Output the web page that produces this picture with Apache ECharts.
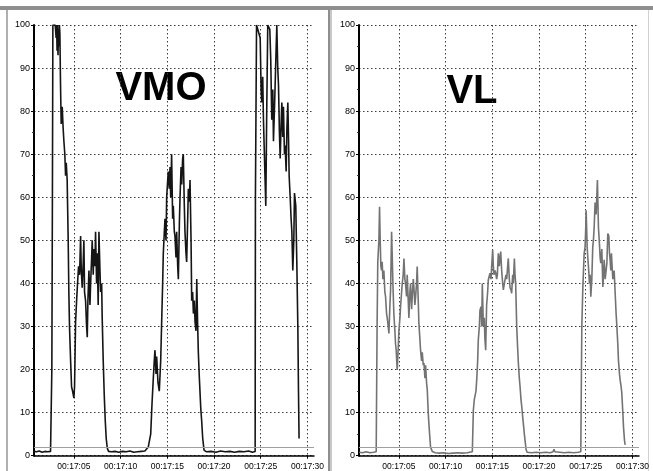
<!DOCTYPE html>
<html>
<head>
<meta charset="utf-8">
<script src="https://cdn.jsdelivr.net/npm/echarts@6/dist/echarts.min.js"></script>
<style>
html,body{margin:0;padding:0;background:#ffffff;}
#chart{width:653px;height:471px;}
</style>
</head>
<body>
<div id="chart"></div>
<script>
// ---- data (seconds after 00:17:00, value) ----
const panelTitles = ['VMO', 'VL'];
const xTickSeconds = [5, 10, 15, 20, 25, 30];
const xTickLabels = ['00:17:05', '00:17:10', '00:17:15', '00:17:20', '00:17:25', '00:17:30'];
const yMin = 0, yMax = 100, yStep = 10;
const xStart = 0.73, xEnd = 30.7;
const threshold = 2;

const vmoPoints = [
[0.72,1.0],[1.0,0.9],[1.3,1.1],[1.6,0.8],[1.9,1.0],[2.2,0.9],[2.5,1.0],[2.6,1.0],
[2.64,20],[2.7,60],[2.75,100],[2.8,100],[2.9,100],[3.0,100],[3.1,97],[3.15,100],[3.2,94],[3.25,100],[3.3,93],[3.35,99],[3.4,95],[3.45,100],[3.5,98],
[3.57,86],[3.64,77],[3.75,81],[3.85,76],[3.93,73],[4.03,70],[4.11,65],[4.18,68],[4.28,64],
[4.39,50],[4.46,38],[4.53,30],[4.65,22],[4.75,16],[4.86,15],[5.0,13.4],[5.07,16],
[5.18,31],[5.29,36],[5.39,40],[5.5,44],[5.61,42],[5.72,51],[5.79,43],[5.89,39],[6.0,45],[6.07,50],[6.14,38],[6.25,36],[6.36,30],[6.43,27.5],[6.5,36],[6.61,43],[6.72,35],[6.79,40],[6.9,46],[6.96,50],[7.07,42],[7.14,48],[7.25,44],[7.32,52],[7.43,40],[7.5,47],[7.6,35],[7.68,52],[7.79,43],[7.86,38],[7.97,40],[8.03,32],[8.14,22],[8.25,14],[8.36,8],[8.46,4],[8.57,1.8],[8.71,1.0],
[9.0,0.9],[9.4,1.0],[9.8,0.8],[10.2,1.0],[10.6,0.9],[11.0,1.1],[11.4,0.8],[11.8,0.9],[12.2,1.0],[12.6,1.1],[12.96,2],
[13.22,5],[13.36,12],[13.5,18],[13.6,22],[13.68,24.5],[13.79,19],[13.86,23],[14.0,17],[14.14,15],[14.29,22],[14.4,31.5],[14.5,40],[14.57,47],[14.68,52],[14.75,55],[14.86,50],[14.93,60],[15.04,64],[15.1,66],[15.21,62],[15.29,67],[15.36,60],[15.46,70],[15.57,55],[15.64,58],[15.75,52],[15.82,51],[15.93,46],[16.0,52],[16.11,44],[16.18,41],[16.29,54],[16.36,60],[16.47,67],[16.54,63],[16.64,69],[16.71,70],[16.82,58],[16.89,52],[17.0,47],[17.07,45],[17.18,55],[17.25,62],[17.36,59],[17.43,64],[17.54,50],[17.61,36],[17.71,38],[17.79,33],[17.89,36],[17.97,31],[18.07,29],[18.15,41],[18.25,30],[18.32,24],[18.43,18],[18.58,11],[18.68,8],[18.79,4],[18.93,1.3],
[19.2,0.9],[19.7,1.0],[20.2,0.8],[20.7,1.1],[21.2,0.9],[21.7,1.0],[22.2,0.8],[22.7,1.0],[23.2,0.9],[23.7,1.1],[24.1,0.8],[24.4,1.0],
[24.43,60],[24.55,100],[24.75,100],[24.94,97],[25.04,85],[25.11,82],[25.21,88],[25.29,78],[25.39,70],[25.54,58],[25.64,80],[25.75,100],[25.86,100],[25.97,99],[26.07,92],[26.18,78],[26.29,85],[26.36,73],[26.46,80],[26.54,86],[26.64,94],[26.72,100],[26.82,90],[26.9,86],[27.0,75],[27.08,69],[27.18,77],[27.26,82],[27.36,74],[27.43,81],[27.54,70],[27.61,72],[27.72,66],[27.8,76],[27.9,82],[27.97,74],[28.04,65],[28.15,60],[28.25,55],[28.33,52],[28.43,43],[28.54,50],[28.61,61],[28.75,58],[28.86,45],[28.97,30],[29.04,15],[29.1,4]
];

const vlPoints = [
[0.75,0.8],[1.1,0.7],[1.5,0.9],[1.9,0.7],[2.3,0.8],[2.57,0.9],
[2.67,31],[2.74,45],[2.86,50],[2.93,57.8],[3.0,50],[3.07,44],[3.14,43],[3.21,45],[3.29,41],[3.39,43],[3.5,38],[3.57,37],[3.68,33],[3.75,32],[3.86,30],[3.93,28.4],[4.04,35],[4.11,38.5],[4.22,52],[4.29,46],[4.36,40],[4.46,33],[4.57,29],[4.64,26],[4.71,24.5],[4.82,19.9],[4.93,25],[5.0,29],[5.11,32],[5.18,34.6],[5.29,38],[5.36,40],[5.46,42],[5.54,45.8],[5.64,41],[5.71,40],[5.82,37],[5.89,42],[6.0,36],[6.07,32],[6.18,38],[6.25,40],[6.36,34],[6.43,37],[6.54,41],[6.61,39],[6.71,35],[6.79,37],[6.89,40],[6.96,43.9],[7.07,36],[7.14,30.8],[7.25,27],[7.32,24.5],[7.43,22],[7.5,24],[7.61,21],[7.68,21.5],[7.79,18],[7.86,21],[7.96,17],[8.04,15.2],[8.14,10],[8.21,7.5],[8.32,4],[8.39,2],[8.57,1.0],
[8.9,0.7],[9.3,0.6],[9.8,0.7],[10.3,0.5],[10.8,0.6],[11.3,0.7],[11.8,0.6],[12.3,0.7],[12.86,0.9],
[12.97,10.6],[13.07,13],[13.15,12.9],[13.25,15],[13.33,17.6],[13.43,22],[13.5,26.9],[13.61,30],[13.68,33.8],[13.79,34.6],[13.86,30],[13.93,40],[14.04,30],[14.14,32],[14.21,27],[14.29,24.5],[14.39,35],[14.5,38],[14.57,40.8],[14.68,41],[14.75,42.4],[14.86,41],[14.93,43.9],[15.04,47.8],[15.11,44],[15.18,42],[15.29,43],[15.36,42.5],[15.46,41],[15.54,42],[15.64,47],[15.75,44],[15.82,46],[15.9,47.4],[16.0,43],[16.11,40],[16.18,38.5],[16.29,40],[16.36,40],[16.46,42],[16.54,41],[16.64,44],[16.71,45.8],[16.82,41],[16.9,39],[17.0,38.5],[17.07,37.7],[17.18,42],[17.25,40],[17.36,45.8],[17.43,42],[17.5,40],[17.61,30],[17.71,25],[17.79,21.4],[17.89,18],[17.97,16],[18.07,13],[18.15,11.4],[18.25,9],[18.32,7.5],[18.43,5],[18.5,3.6],[18.61,1.5],[18.72,0.8],
[19.2,0.7],[19.7,0.8],[20.2,0.7],[20.7,0.8],[21.2,0.7],[21.5,0.9],[21.6,1.5],[21.7,0.9],[22.2,0.8],[22.7,0.7],[23.2,0.8],[23.7,0.7],[24.2,0.8],[24.47,0.9],
[24.54,20],[24.58,30],[24.69,39.2],[24.76,43],[24.83,47],[24.93,48.5],[25.0,53],[25.04,57],[25.11,52],[25.15,48.5],[25.22,46],[25.29,43.9],[25.4,40],[25.47,42],[25.54,36.9],[25.65,41],[25.75,48.5],[25.82,50],[25.9,53],[26.0,58.8],[26.11,56],[26.18,60],[26.25,64],[26.36,53],[26.47,49],[26.54,46],[26.61,44.7],[26.72,48],[26.83,39.2],[26.9,42],[26.97,45.5],[27.08,41],[27.18,43],[27.26,44.7],[27.36,51.6],[27.47,51],[27.54,47],[27.61,45.5],[27.68,43],[27.75,47],[27.82,44],[27.9,41],[27.97,42],[28.04,43],[28.15,37.7],[28.25,33],[28.33,30],[28.43,26],[28.5,22.2],[28.61,19],[28.68,17.6],[28.79,16],[28.86,14.5],[28.97,10],[29.04,6.7],[29.15,3.5],[29.22,2.5]
];

// ---- chart ----
const FONT = '"Liberation Sans Narrow", "Liberation Sans", Arial, sans-serif';
const chart = echarts.init(document.getElementById('chart'), null, {renderer: 'canvas'});

function xAxisFor(gridIndex) {
  return {
    type: 'value', gridIndex: gridIndex, min: xStart, max: xEnd,
    axisLine: {show: true, onZero: false, lineStyle: {color: '#000', width: 1.5}},
    axisTick: {show: true, length: 3, customValues: xTickSeconds, lineStyle: {color: '#000'}},
    axisLabel: {
      customValues: xTickSeconds, margin: 6, color: '#000', fontSize: 8.5, fontFamily: FONT,
      formatter: function (v) { const i = xTickSeconds.indexOf(v); return i >= 0 ? xTickLabels[i] : ''; }
    },
    splitLine: {show: true, lineStyle: {color: '#3a3a3a', width: 1, type: [1.5, 2.5]}}
  };
}
function yAxisFor(gridIndex) {
  return {
    type: 'value', gridIndex: gridIndex, min: yMin, max: yMax, interval: yStep,
    axisLine: {show: true, lineStyle: {color: '#000', width: 2}},
    axisTick: {show: true, length: 3, lineStyle: {color: '#000'}},
    minorTick: {show: true, splitNumber: 2, length: 2, lineStyle: {color: '#333'}},
    axisLabel: {margin: 4, color: '#000', fontSize: 9, fontFamily: FONT},
    splitLine: {show: true, lineStyle: {color: '#3a3a3a', width: 1, type: [1.5, 2.5]}}
  };
}
function lineSeries(idx, points, color, width) {
  return {
    type: 'line', xAxisIndex: idx, yAxisIndex: idx, data: points,
    showSymbol: false, symbol: 'none', animation: false,
    lineStyle: {color: color, width: width},
    markLine: {
      silent: true, symbol: ['none', 'none'], animation: false,
      label: {show: false},
      lineStyle: {color: '#a0a0a0', width: 1.2, type: 'solid'},
      data: [{yAxis: threshold}]
    }
  };
}

chart.setOption({
  backgroundColor: '#ffffff',
  animation: false,
  grid: [
    {left: 34, top: 25, width: 280, height: 430.7},
    {left: 359, top: 25, width: 280, height: 430.7}
  ],
  xAxis: [xAxisFor(0), xAxisFor(1)],
  yAxis: [yAxisFor(0), yAxisFor(1)],
  series: [
    lineSeries(0, vmoPoints, '#151515', 1.6),
    lineSeries(1, vlPoints, '#737373', 1.6)
  ],
  graphic: [
    {type: 'rect', left: 0, top: 6, shape: {width: 653, height: 4}, style: {fill: '#8e8e8e'}, silent: true},
    {type: 'rect', left: 6, top: 10, shape: {width: 2, height: 461}, style: {fill: '#b0b0b0'}, silent: true},
    {type: 'rect', left: 328, top: 10, shape: {width: 2, height: 461}, style: {fill: '#8e8e8e'}, silent: true},
    {type: 'rect', left: 330, top: 10, shape: {width: 2, height: 461}, style: {fill: '#c8c8c8'}, silent: true},
    {type: 'rect', left: 648, top: 10, shape: {width: 1, height: 461}, style: {fill: '#d0d0d0'}, silent: true},
    {type: 'text', x: 161, y: 88.5, silent: true,
      style: {text: panelTitles[0], fill: '#000', font: 'bold 40px "Liberation Sans", Arial, sans-serif', textAlign: 'center', textVerticalAlign: 'middle'}},
    {type: 'text', x: 472, y: 91.5, silent: true,
      style: {text: panelTitles[1], fill: '#000', font: 'bold 40px "Liberation Sans", Arial, sans-serif', textAlign: 'center', textVerticalAlign: 'middle'}}
  ]
});
</script>
</body>
</html>
